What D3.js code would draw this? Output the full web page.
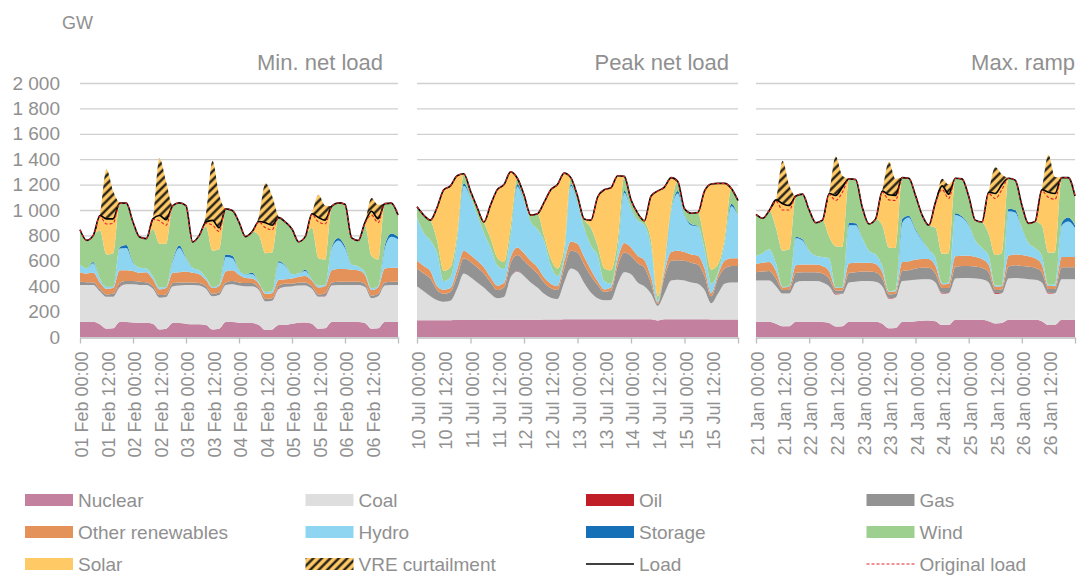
<!DOCTYPE html>
<html>
<head>
<meta charset="utf-8">
<script src="https://cdn.jsdelivr.net/npm/d3@7"></script>
<style>
	body { margin: 0; background: #fff; }
	text { font-family: "Liberation Sans", Arial, sans-serif; }
</style>
</head>
<body>
<svg id="chart" width="1080" height="575"></svg>
<script>
// hours since start of each 6-day window, 3-hourly samples
const hours = d3.range(0, 145, 3)

const panelTitles = ["Min. net load", "Peak net load", "Max. ramp"]
const yTicks = [0, 200, 400, 600, 800, 1000, 1200, 1400, 1600, 1800, 2000]
const dayTicks = [0, 24, 48, 72, 96, 120, 144]
const labelHours = [0, 12, 24, 36, 48, 60, 72, 84, 96, 108, 120, 132]

const febLabels = ["01 Feb 00:00", "01 Feb 12:00", "02 Feb 00:00", "02 Feb 12:00", "03 Feb 00:00", "03 Feb 12:00",
	"04 Feb 00:00", "04 Feb 12:00", "05 Feb 00:00", "05 Feb 12:00", "06 Feb 00:00", "06 Feb 12:00"]
const julLabels = ["10 Jul 00:00", "10 Jul 12:00", "11 Jul 00:00", "11 Jul 12:00", "12 Jul 00:00", "12 Jul 12:00",
	"13 Jul 00:00", "13 Jul 12:00", "14 Jul 00:00", "14 Jul 12:00", "15 Jul 00:00", "15 Jul 12:00"]
const janLabels = ["21 Jan 00:00", "21 Jan 12:00", "22 Jan 00:00", "22 Jan 12:00", "23 Jan 00:00", "23 Jan 12:00",
	"24 Jan 00:00", "24 Jan 12:00", "25 Jan 00:00", "25 Jan 12:00", "26 Jan 00:00", "26 Jan 12:00"]

// ---- Min. net load (Feb), GW ----
const febNuclear = [120,120,120,100,65,68,118,118,115,112, 112,105,60,65,110,110,105,100,100,95, 60,65,118,118,112,110,110,95,55,60, 95,95,105,112,115,105,65,68,118,118, 118,118,118,110,65,68,118,118,118]
const febCoal = [290,290,290,260,251,248,277,297,300,298, 298,275,250,250,290,295,305,310,305,285, 260,265,292,297,293,290,290,275,225,225, 285,300,295,293,290,275,251,252,287,292, 292,292,292,285,240,252,287,292,292]
const febOil = [0,0,0,0,0,0,6,0,0,0, 0,0,0,0,0,0,0,0,0,0, 0,0,0,0,0,0,0,0,0,0, 6,0,0,0,0,0,0,5,0,0, 0,0,0,0,0,0,0,0,0]
const febGas = [25,22,20,20,19,24,25,25,25,25, 22,20,20,20,25,25,20,20,20,20, 20,20,20,25,25,25,25,15,20,20, 20,25,20,25,25,20,19,20,25,25, 25,25,25,25,20,20,25,25,25]
const febOther = [75,68,75,50,45,45,100,85,80,70, 78,55,45,50,80,80,85,75,70,50, 45,50,85,85,60,40,35,35,40,40, 45,35,40,45,50,45,55,55,95,100, 100,95,90,70,45,50,110,110,110]
const febHydro = [60,40,75,30,15,15,170,175,65,40, 30,25,15,10,95,190,105,40,30,20, 10,10,115,95,40,30,35,10,15,15, 135,105,35,25,40,10,15,10,175,225, 165,40,30,20,15,10,160,245,225]
const febStorage = [0,0,10,0,0,0,10,25,5,0, 0,0,0,0,10,20,5,0,0,0, 0,0,20,20,0,0,10,0,0,0, 10,5,0,0,10,0,0,0,10,20, 15,0,0,0,0,0,20,25,20]
const febWind = [274,221,210,380,255,260,354,329,315,242, 235,370,345,340,425,336,410,203,275,400, 285,280,359,356,375,295,325,370,305,305, 350,340,355,250,260,405,215,200,320,276, 330,210,205,370,255,210,330,239,170]
const febSolar = [0,0,0,117,280,270,0,0,0,0, 0,80,222,188,0,0,0,0,0,35, 238,170,0,0,0,0,0,110,240,215, 0,0,0,0,0,110,320,315,0,0, 0,0,0,20,350,321,0,0,0]
const febCurtail = [0,0,0,0,390,220,0,0,0,0, 0,0,450,300,0,0,0,0,0,60, 470,260,0,0,0,0,0,40,310,230, 0,0,0,0,0,0,180,110,0,0, 0,0,0,0,105,110,0,0,0]
const febLoad = [844,761,800,957,930,930,1054,1054,905,787, 775,930,957,923,1035,1056,1035,748,800,905, 918,860,1009,996,905,790,830,910,900,880, 940,905,850,750,790,970,940,920,1030,1056, 1045,780,760,900,990,931,1050,1054,960]
const febOrigLoad = [844,761,800,950,890,895,1054,1054,905,787, 775,925,915,880,1035,1056,1035,748,800,895, 880,830,1009,996,905,790,830,905,860,845, 940,905,850,750,790,965,905,890,1030,1056, 1045,780,760,895,960,900,1050,1054,960]

// ---- Peak net load (Jul), GW ----
const julNuclear = [132,132,132,132,132,132,133,133,133,133, 133,135,135,135,135,135,136,136,136,138, 138,138,140,140,140,139,139,139,139,139, 139,139,139,139,139,139,130,139,139,139, 139,139,139,139,138,138,138,138,138]
const julCoal = [268,228,188,158,146,153,247,367,337,297, 257,205,170,180,335,380,344,294,254,202, 172,162,290,400,375,286,211,166,151,153, 281,371,356,291,261,201,115,203,306,311, 306,291,281,231,127,202,282,292,292]
const julOil = [0,0,0,0,0,0,0,0,0,0, 0,0,0,0,0,5,0,0,0,0, 0,0,0,0,0,0,0,0,0,0, 0,0,0,0,0,0,0,0,0,0, 0,0,0,0,0,0,0,0,0]
const julGas = [140,140,140,80,62,70,100,120,120,120, 110,90,65,75,110,125,120,120,110,90, 75,70,110,140,150,145,130,105,66,73, 140,155,145,150,145,80,17,131,155,155, 155,155,150,110,55,120,120,130,130]
const julOther = [60,60,60,30,32,30,50,60,55,50, 50,40,35,35,50,60,60,50,50,40, 35,30,50,70,70,60,50,30,19,25, 50,75,65,60,60,50,13,37,70,75, 70,65,70,60,25,30,60,60,60]
const julHydro = [340,260,240,260,68,85,230,510,455,360, 270,230,160,110,170,480,410,310,300,285, 145,80,50,440,320,230,190,200,65,30, 70,395,305,280,275,238,15,40,320,450, 290,230,230,150,75,20,140,410,340]
const julStorage = [0,0,0,0,0,0,0,20,5,0, 0,0,0,0,0,20,5,0,0,0, 0,0,0,15,5,0,0,0,0,0, 0,20,0,0,0,0,0,0,0,20, 5,10,5,0,0,0,0,20,0]
const julWind = [85,140,160,100,80,80,50,75,45,60, 85,75,60,55,70,50,45,50,120,45, 55,60,60,50,50,70,140,80,100,105, 80,110,70,55,35,52,30,30,40,75, 45,85,105,70,110,60,40,120,115]
const julSolar = [0,0,0,260,640,640,460,0,0,0, 0,265,535,610,430,0,0,0,0,260, 540,660,590,0,0,0,60,380,620,650, 510,0,0,0,0,350,830,600,225,0, 0,0,0,390,675,640,430,0,0]
const julCurtail = [0,0,0,0,0,0,0,0,0,0, 0,0,0,0,0,0,0,0,0,0, 0,0,0,0,0,0,0,0,0,0, 0,0,0,0,0,0,0,0,0,0, 0,0,0,0,0,0,0,0,0]
const julLoad = [1025,960,920,1020,1160,1190,1270,1285,1150,1020, 905,1040,1160,1200,1300,1250,1120,960,970,1060, 1160,1200,1290,1255,1110,930,920,1100,1160,1175, 1270,1265,1080,975,915,1110,1150,1180,1255,1225, 1010,975,980,1150,1205,1210,1210,1170,1075]
const julOrigLoad = [1025,960,920,1020,1160,1190,1270,1285,1150,1020, 905,1040,1160,1200,1300,1250,1120,960,970,1060, 1160,1200,1290,1255,1110,930,920,1100,1160,1175, 1270,1265,1080,975,915,1110,1150,1180,1255,1225, 1010,975,980,1150,1205,1210,1210,1170,1075]

// ---- Max. ramp (Jan), GW ----
const janNuclear = [120,120,120,105,85,85,120,120,120,120, 118,110,82,85,120,120,120,120,120,105, 68,70,118,118,125,128,130,125,94,94, 135,135,135,135,135,125,107,110,135,135, 135,135,135,125,94,95,135,135,135]
const janCoal = [325,325,325,295,257,257,310,320,320,320, 312,290,253,255,310,315,320,320,315,295, 235,240,322,327,325,327,325,305,248,251, 325,330,330,325,320,305,233,235,325,330, 325,320,315,305,248,250,320,320,320]
const janOil = [0,0,0,0,0,0,0,0,0,0, 0,0,6,0,0,0,0,0,0,0, 5,0,0,0,0,0,0,0,6,0, 0,0,0,0,0,0,6,0,0,0, 0,0,0,0,6,0,0,0,0]
const janGas = [65,70,75,60,28,28,75,70,70,70, 70,60,25,25,75,75,75,75,75,60, 27,30,80,80,90,90,90,70,38,40, 95,95,95,95,90,80,25,30,95,100, 100,100,95,80,30,33,95,95,95]
const janOther = [65,70,70,60,20,25,60,60,60,60, 60,60,20,20,75,75,70,70,65,50, 20,20,70,70,70,70,70,60,30,35, 80,80,80,75,70,60,25,25,85,85, 85,80,75,60,23,22,80,80,80]
const janHydro = [65,75,100,60,5,10,215,190,110,70, 70,100,5,10,300,295,195,95,75,50, 5,10,310,345,230,145,75,60,10,10, 325,300,240,130,85,70,10,10,350,330, 215,105,80,70,10,15,250,280,230]
const janStorage = [0,0,0,0,0,0,10,10,0,0, 0,0,0,0,20,15,0,0,0,0, 0,0,30,15,10,5,0,0,0,0, 15,10,5,0,0,0,0,0,20,20, 0,0,0,0,0,0,20,30,20]
const janWind = [325,275,306,280,285,285,320,355,320,260, 290,170,323,315,345,345,240,210,280,320, 345,330,325,295,265,195,190,240,230,230, 275,295,225,160,205,173,240,250,240,235, 180,155,210,240,255,250,355,315,230]
const janSolar = [0,0,0,220,370,345,0,0,0,0, 0,340,407,470,0,0,0,0,0,270, 420,415,0,0,0,0,0,200,540,465, 0,0,0,0,0,327,490,540,0,0, 0,0,0,280,480,465,0,0,0]
const janCurtail = [0,0,0,0,335,160,0,0,0,0, 0,0,300,90,0,0,0,0,0,0, 255,130,0,0,0,0,0,0,50,75, 0,0,0,0,0,0,200,80,0,0, 0,0,0,0,290,130,0,0,0]
const janLoad = [965,935,996,1080,1050,1035,1110,1125,1000,900, 920,1130,1115,1180,1245,1240,1020,890,930,1150, 1120,1115,1255,1250,1115,960,880,1060,1190,1125, 1250,1245,1110,920,905,1140,1130,1200,1250,1235, 1040,895,910,1160,1140,1130,1255,1255,1110]
const janOrigLoad = [965,935,996,1070,1000,1000,1110,1125,1000,900, 920,1120,1075,1140,1245,1240,1020,890,930,1140, 1080,1075,1255,1250,1115,960,880,1055,1160,1090, 1250,1245,1110,920,905,1130,1090,1160,1250,1235, 1040,895,910,1150,1100,1085,1255,1255,1110]

const legendNames = ["Nuclear", "Coal", "Oil", "Gas", "Other renewables", "Hydro", "Storage", "Wind",
	"Solar", "VRE curtailment", "Load", "Original load"]

// stacking order, bottom to top
const keys = ["nuclear", "coal", "oil", "gas", "other", "hydro", "storage", "wind", "solar", "curtail"]
const colors = {
	nuclear: "#c4819f",
	coal: "#dedede",
	oil: "#c01f27",
	gas: "#939393",
	other: "#e5915a",
	hydro: "#8ed5f1",
	storage: "#1570b8",
	wind: "#9dcf8f",
	solar: "#ffca66",
	curtail: "url(#hatch)",
}

const panels = [
	{ title: panelTitles[0], labels: febLabels, range: [80, 398], titleX: 383, load: febLoad, orig: febOrigLoad,
		series: { nuclear: febNuclear, coal: febCoal, oil: febOil, gas: febGas, other: febOther, hydro: febHydro,
			storage: febStorage, wind: febWind, solar: febSolar, curtail: febCurtail } },
	{ title: panelTitles[1], labels: julLabels, range: [417, 738], titleX: 729, load: julLoad, orig: julOrigLoad,
		series: { nuclear: julNuclear, coal: julCoal, oil: julOil, gas: julGas, other: julOther, hydro: julHydro,
			storage: julStorage, wind: julWind, solar: julSolar, curtail: julCurtail } },
	{ title: panelTitles[2], labels: janLabels, range: [756, 1075], titleX: 1075, load: janLoad, orig: janOrigLoad,
		series: { nuclear: janNuclear, coal: janCoal, oil: janOil, gas: janGas, other: janOther, hydro: janHydro,
			storage: janStorage, wind: janWind, solar: janSolar, curtail: janCurtail } },
]

const textColor = "#909090"
const svg = d3.select("#chart")

// hatch for curtailment
const pat = svg.append("defs").append("pattern")
	.attr("id", "hatch")
	.attr("patternUnits", "userSpaceOnUse")
	.attr("width", 6)
	.attr("height", 6)
	.attr("patternTransform", "rotate(45)")
pat.append("rect").attr("width", 6).attr("height", 6).attr("fill", "#ffca66")
pat.append("line")
	.attr("x1", 1.5).attr("y1", 0).attr("x2", 1.5).attr("y2", 6)
	.attr("stroke", "#111").attr("stroke-width", 2.2)

const y = d3.scaleLinear().domain([0, 2000]).range([337, 83])
const fmt = d3.formatLocale({ decimal: ".", thousands: "\u00a0", grouping: [3], currency: ["", ""] }).format(",")

svg.append("text")
	.attr("x", 62).attr("y", 29)
	.attr("font-size", 18).attr("fill", textColor)
	.text("GW")

// y tick labels
const yAxis = svg.append("g")
	.attr("transform", "translate(60,0)")
	.call(d3.axisLeft(y).tickValues(yTicks).tickSize(0).tickPadding(0).tickFormat(fmt))
yAxis.select(".domain").remove()
yAxis.selectAll("text").attr("font-size", 19).attr("fill", textColor).attr("font-family", null)

panels.forEach((p) => {
	const x = d3.scaleLinear().domain([0, 144]).range(p.range)
	const w = p.range[1] - p.range[0]

	// gridlines
	const grid = svg.append("g")
		.attr("transform", `translate(${p.range[0]},0)`)
		.call(d3.axisLeft(y).tickValues(yTicks.slice(1)).tickSize(-w).tickFormat(""))
	grid.select(".domain").remove()
	grid.selectAll("line").attr("stroke", "#d0d0d0").attr("stroke-width", 1.3)

	// stacked areas
	const rows = hours.map((h, i) => {
		const r = { hour: h }
		keys.forEach((k) => (r[k] = p.series[k][i]))
		return r
	})
	const stacked = d3.stack().keys(keys)(rows)
	const area = d3.area()
		.x((d) => x(d.data.hour))
		.y0((d) => y(d[0]))
		.y1((d) => y(d[1]))
		.curve(d3.curveMonotoneX)

	svg.append("g")
		.selectAll("path")
		.data(stacked)
		.enter()
		.append("path")
		.attr("d", area)
		.attr("fill", (d) => colors[d.key])

	// load lines
	const line = d3.line()
		.x((d, i) => x(hours[i]))
		.y((d) => y(d))
		.curve(d3.curveMonotoneX)
	svg.append("path")
		.attr("d", line(p.load))
		.attr("fill", "none")
		.attr("stroke", "#000")
		.attr("stroke-width", 1.6)
	svg.append("path")
		.attr("d", line(p.orig))
		.attr("fill", "none")
		.attr("stroke", "#e0242a")
		.attr("stroke-width", 1.1)
		.attr("stroke-dasharray", "3,2")

	// x axis: day ticks
	const xAxis = svg.append("g")
		.attr("transform", `translate(0,${y(0) + 0.5})`)
		.call(d3.axisBottom(x).tickValues(dayTicks).tickSize(6).tickSizeOuter(0).tickFormat(""))
	xAxis.select(".domain").attr("stroke", "#bdbdbd").attr("stroke-width", 1.3)
	xAxis.selectAll("line").attr("stroke", "#bdbdbd").attr("stroke-width", 1.3)

	// x labels every 12 h
	const xLab = svg.append("g")
		.attr("transform", `translate(0,${y(0) + 0.5})`)
		.call(d3.axisBottom(x).tickValues(labelHours).tickSize(0).tickFormat((d, i) => p.labels[i]))
	xLab.select(".domain").remove()
	xLab.selectAll("text")
		.attr("font-family", null)
		.attr("font-size", 18)
		.attr("fill", textColor)
		.attr("text-anchor", "end")
		.attr("transform", "rotate(-90)")
		.attr("x", -14)
		.attr("y", 1.5)
		.attr("dy", "0.35em")

	svg.append("text")
		.attr("x", p.titleX).attr("y", 70)
		.attr("text-anchor", "end")
		.attr("font-size", 22)
		.attr("fill", textColor)
		.text(p.title)
})

// legend
const legendKeys = ["nuclear", "coal", "oil", "gas", "other", "hydro", "storage", "wind", "solar", "curtail", "load", "orig"]
const legend = svg.append("g")
legendKeys.forEach((k, i) => {
	const lx = 25 + (i % 4) * 280.5
	const ly = 500 + Math.floor(i / 4) * 32
	const g = legend.append("g").attr("transform", `translate(${lx},${ly})`)
	if (k === "load") {
		g.append("line").attr("x1", 0).attr("x2", 48).attr("stroke", "#000").attr("stroke-width", 1.6)
	} else if (k === "orig") {
		g.append("line").attr("x1", 0).attr("x2", 48).attr("stroke", "#e0242a")
			.attr("stroke-width", 1.1).attr("stroke-dasharray", "3,2")
	} else {
		g.append("rect").attr("x", 0).attr("y", -6).attr("width", 48).attr("height", 12).attr("fill", colors[k])
	}
	g.append("text")
		.attr("x", 53).attr("y", 0).attr("dy", "0.35em")
		.attr("font-size", 19).attr("fill", textColor)
		.text(legendNames[i])
})
</script>
</body>
</html>
